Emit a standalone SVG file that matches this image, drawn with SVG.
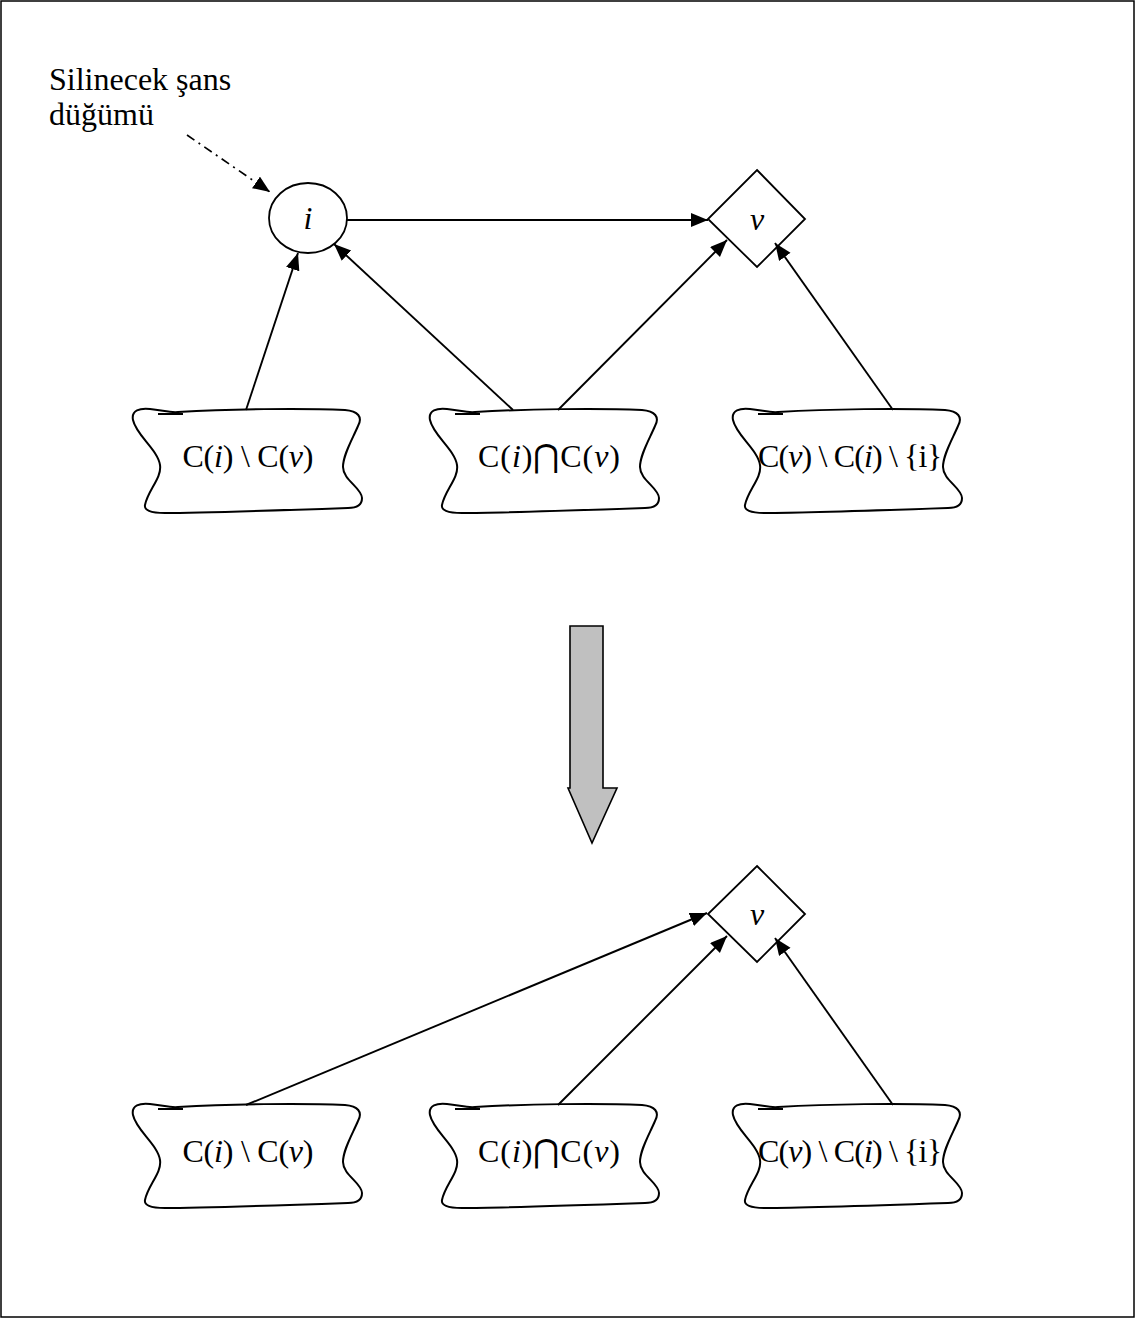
<svg xmlns="http://www.w3.org/2000/svg" xmlns:xlink="http://www.w3.org/1999/xlink" width="1136" height="1319" viewBox="0 0 1136 1319">
  <style>
    .txt { font-family: "Liberation Serif", "DejaVu Serif", serif; font-size: 32px; fill: #000; }
    .it { font-style: italic; }
    .shape { fill: #fff; stroke: #000; stroke-width: 1.8; }
    .cloud { fill: none; stroke: #000; stroke-width: 2; stroke-linejoin: round; }
    .edge { fill: none; stroke: #000; stroke-width: 1.9; marker-end: url(#arrow); }
    .note { fill: none; stroke: #000; stroke-width: 1.7; stroke-dasharray: 9 5 2 5; marker-end: url(#arrow); }
  </style>
  <defs>
    <marker id="arrow" markerUnits="userSpaceOnUse" markerWidth="19" markerHeight="16" refX="17" refY="7" orient="auto">
      <path d="M0,0 L17,7 L0,14 Z" fill="#000"/>
    </marker>
    <!-- wavy container outline, drawn at the left column of the upper row -->
    <g id="wave">
      <path class="cloud" d="M145,505 C148,490 162,478 160,465 C158,450 136,435 133,420 C131,410 140,408 150,409 C162,410 170,413 178,412 C230,409 300,408 345,410 C358,411 363,417 358,426 C352,440 343,455 343,467 C343,480 362,488 362,498 C362,506 355,508 348,508 C290,510 200,513 165,513 C150,513 144,510 145,505 Z"/>
      <path class="cloud" d="M158,414 L183,414"/>
    </g>
  </defs>

  <rect x="1" y="1" width="1133" height="1316" fill="#fff" stroke="#000" stroke-width="1.5"/>

  <!-- annotation -->
  <g id="label-silinecek">
    <text class="txt" x="49" y="90">Silinecek şans</text>
    <text class="txt" x="49" y="125">düğümü</text>
  </g>

  <!-- upper network -->
  <g id="node-i">
    <ellipse class="shape" cx="308" cy="218" rx="39" ry="35"/>
    <text class="txt it" x="308" y="229" text-anchor="middle">i</text>
  </g>
  <g id="node-v-top">
    <polygon class="shape" points="757,170 805,219 757,267 708,219"/>
    <text class="txt it" x="757" y="230" text-anchor="middle">v</text>
  </g>
  <g id="node-ci-minus-cv-top">
    <use xlink:href="#wave"/>
    <text class="txt" x="248" y="467" text-anchor="middle" textLength="131">C(<tspan class="it">i</tspan>) \ C(<tspan class="it">v</tspan>)</text>
  </g>
  <g id="node-ci-cap-cv-top" transform="translate(297,0)">
    <use xlink:href="#wave"/>
    <text class="txt" x="252" y="467" text-anchor="middle" textLength="142">C(<tspan class="it">i</tspan>)⋂C(<tspan class="it">v</tspan>)</text>
  </g>
  <g id="node-cv-minus-ci-top" transform="translate(600,0)">
    <use xlink:href="#wave"/>
    <text class="txt" x="250" y="467" text-anchor="middle" textLength="184">C(<tspan class="it">v</tspan>) \ C(<tspan class="it">i</tspan>) \ {i}</text>
  </g>

  <!-- transformation arrow -->
  <g id="transform-arrow">
    <polygon points="570,626 603,626 603,788 617,788 592,843 568,788 570,788" fill="#c0c0c0" stroke="#000" stroke-width="1.6" stroke-linejoin="miter"/>
  </g>

  <!-- lower network -->
  <g id="node-v-bottom">
    <polygon class="shape" points="757,866 805,914 757,962 708,914"/>
    <text class="txt it" x="757" y="925" text-anchor="middle">v</text>
  </g>
  <g id="node-ci-minus-cv-bottom" transform="translate(0,695)">
    <use xlink:href="#wave"/>
    <text class="txt" x="248" y="467" text-anchor="middle" textLength="131">C(<tspan class="it">i</tspan>) \ C(<tspan class="it">v</tspan>)</text>
  </g>
  <g id="node-ci-cap-cv-bottom" transform="translate(297,695)">
    <use xlink:href="#wave"/>
    <text class="txt" x="252" y="467" text-anchor="middle" textLength="142">C(<tspan class="it">i</tspan>)⋂C(<tspan class="it">v</tspan>)</text>
  </g>
  <g id="node-cv-minus-ci-bottom" transform="translate(600,695)">
    <use xlink:href="#wave"/>
    <text class="txt" x="250" y="467" text-anchor="middle" textLength="184">C(<tspan class="it">v</tspan>) \ C(<tspan class="it">i</tspan>) \ {i}</text>
  </g>

  <!-- connectors -->
  <g id="connectors">
    <path class="note" d="M187,135 L270,192"/>
    <path class="edge" d="M347,220 L708,220"/>
    <path class="edge" d="M246,410 L298,253"/>
    <path class="edge" d="M513,410 L334,244"/>
    <path class="edge" d="M558,410 L727,240"/>
    <path class="edge" d="M893,410 L775,243"/>
    <path class="edge" d="M246,1105 L707,913"/>
    <path class="edge" d="M558,1105 L727,936"/>
    <path class="edge" d="M893,1105 L775,938"/>
  </g>
</svg>
